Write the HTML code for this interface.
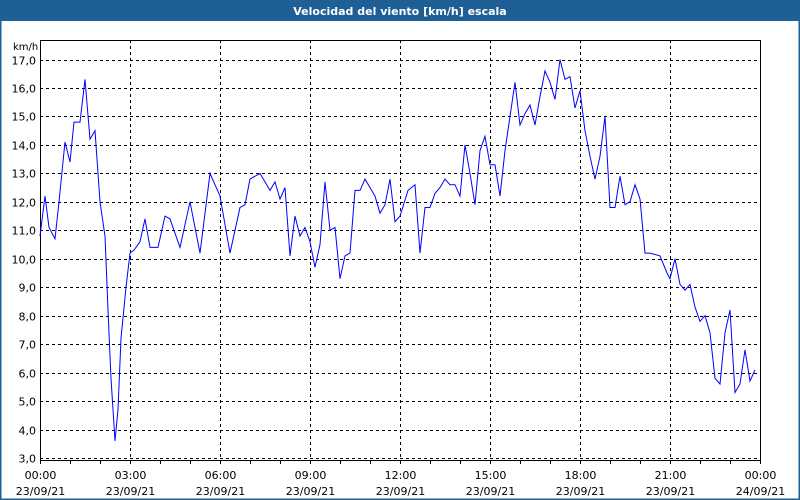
<!DOCTYPE html>
<html><head><meta charset="utf-8"><style>
body{margin:0;background:#fff;}
svg{display:block;font-family:"DejaVu Sans","Liberation Sans",sans-serif;}
</style></head><body>
<svg width="800" height="500">
<rect x="0" y="0" width="800" height="500" fill="#fff"/>
<rect x="0" y="0" width="800" height="21" fill="#1e5f96"/>
<text x="400" y="15" text-anchor="middle" fill="#fff" font-size="11" font-weight="bold">Velocidad del viento [km/h] escala</text>
<rect x="0.5" y="0.5" width="799" height="499" fill="none" stroke="#1e5f96" stroke-width="1"/>
<line x1="0.5" y1="0" x2="0.5" y2="500" stroke="#1e5f96" stroke-width="2"/>
<line x1="799.5" y1="0" x2="799.5" y2="500" stroke="#1e5f96" stroke-width="2"/>
<line x1="0" y1="499.5" x2="800" y2="499.5" stroke="#1e5f96" stroke-width="2"/>
<text x="13" y="50" font-size="10">km/h</text>
<g id="grid"></g>
<g id="axes"></g>
<path id="series" fill="none" stroke="#0000ff" stroke-width="1"/>
</svg>
<script>
const yTicks=[3,4,5,6,7,8,9,10,11,12,13,14,15,16,17];
const xTickHours=[0,3,6,9,12,15,18,21,24];
const xTickTimes=["00:00","03:00","06:00","09:00","12:00","15:00","18:00","21:00","00:00"];
const xTickDates=["23/09/21","23/09/21","23/09/21","23/09/21","23/09/21","23/09/21","23/09/21","23/09/21","24/09/21"];
const pxX=[40,45,49,55,59,65,70,74,80,85,90,95,100,105,108,111,115,118,121,126,130,134,140,145,150,158,165,170,180,190,200,210,220,230,240,245,250,260,270,275,280,285,290,295,300,305,310,315,320,325,330,335,340,345,350,355,360,365,375,380,385,390,395,400,408,415,420,425,430,435,440,445,450,455,460,465,470,475,480,485,490,495,500,505,510,515,520,525,530,535,540,545,550,555,560,565,570,575,580,585,590,595,600,605,610,615,620,625,630,635,640,645,650,660,667,670,675,680,685,690,695,700,705,710,715,720,725,730,735,740,745,750,755];
const hours=pxX.map(x=>(x-40)/30);
const speeds=[10.8,12.2,11.1,10.7,12.0,14.1,13.4,14.8,14.8,16.3,14.2,14.5,12.0,10.8,8.2,5.8,3.6,4.7,7.2,9.0,10.2,10.3,10.6,11.4,10.4,10.4,11.5,11.4,10.4,12.0,10.2,13.0,12.2,10.2,11.8,11.9,12.8,13.0,12.4,12.7,12.1,12.5,10.1,11.5,10.8,11.1,10.6,9.7,10.5,12.7,11.0,11.1,9.3,10.1,10.2,12.4,12.4,12.8,12.2,11.6,11.9,12.8,11.3,11.5,12.4,12.6,10.2,11.8,11.8,12.3,12.5,12.8,12.6,12.6,12.2,14.0,13.0,11.9,13.8,14.3,13.3,13.3,12.2,13.8,15.0,16.2,14.7,15.1,15.4,14.7,15.7,16.6,16.2,15.6,17.0,16.3,16.4,15.3,15.9,14.5,13.6,12.8,13.6,15.0,11.8,11.8,12.9,11.9,12.0,12.6,12.1,10.2,10.2,10.1,9.5,9.3,10.0,9.1,8.9,9.1,8.3,7.8,8.0,7.4,5.8,5.6,7.4,8.2,5.3,5.6,6.8,5.7,6.1];
const L=40,R=760,T=40,B=460;
const X=h=>L+h*(R-L)/24;
const Y=v=>458-(v-3)*(458-59.5)/14;
const NS="http://www.w3.org/2000/svg";
const grid=document.getElementById('grid'),axes=document.getElementById('axes');
function mk(tag,attrs,parent){const e=document.createElementNS(NS,tag);for(const k in attrs)e.setAttribute(k,attrs[k]);parent.appendChild(e);return e;}
yTicks.forEach(v=>{
  const y=Math.round(Y(v))+0.5;
  const g=mk('line',{x1:L,x2:R,y1:y,y2:y,stroke:'#000','stroke-dasharray':'3,3'},grid);
  
  
  const t=mk('text',{x:36,y:y+4,'text-anchor':'end','font-size':'11'},axes);
  t.textContent=v.toFixed(1).replace('.',',');
  
  
});
xTickHours.forEach((h,i)=>{
  const x=Math.round(X(h))+0.5;
  if(h>0&&h<24){const g=mk('line',{x1:x,x2:x,y1:T,y2:B,stroke:'#000','stroke-dasharray':'3,3'},grid);
  
  }
  const t=mk('text',{x:x,y:479,'text-anchor':'middle','font-size':'11'},axes);
  t.textContent=xTickTimes[i];
  
  
  const d=mk('text',{x:x,y:495,'text-anchor':'middle','font-size':'11'},axes);
  d.textContent=xTickDates[i];
  
  
});
for(let h=0;h<=24;h++){const x=Math.round(X(h))+0.5;
  const m=mk('line',{x1:x,x2:x,y1:B,y2:B+4,stroke:'#000'},axes);
  
  }
const fr=mk('rect',{x:L+0.5,y:T+0.5,width:R-L,height:B-T,fill:'none',stroke:'#000'},axes);


document.getElementById('series').setAttribute('d',hours.map((h,i)=>(i?'L':'M')+X(h).toFixed(1)+','+Y(speeds[i]).toFixed(1)).join(''));
</script>
</body></html>
